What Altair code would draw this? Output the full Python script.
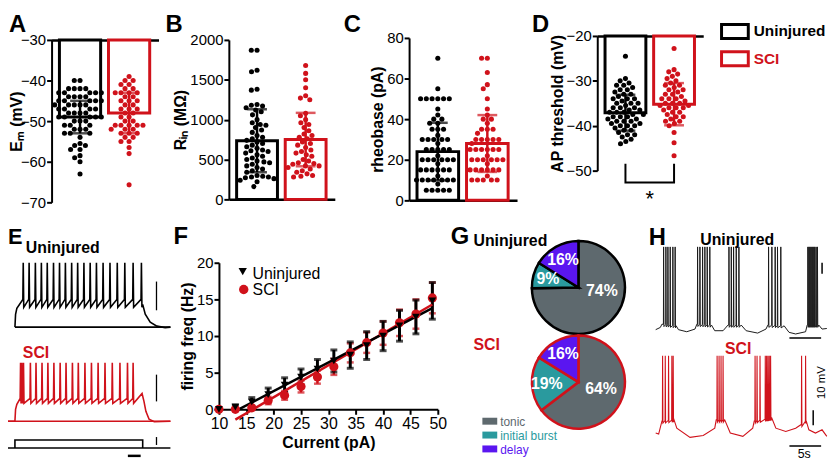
import altair as alt
import numpy as np
import pandas as pd

# ---------------- data ----------------
groups = ['Uninjured', 'SCI']

em_uninj = [-40, -40, -42, -42, -42, -42, -43, -43, -43, -43, -43, -44, -44, -44, -44, -45, -45, -45, -45, -45,
            -46, -46, -46, -46, -46, -47, -47, -47, -47, -48, -48, -48, -48, -49, -49, -49, -49, -49, -50, -50,
            -50, -51, -51, -51, -52, -52, -52, -53, -53, -53, -54, -55.5, -56, -56, -57, -57, -58.5, -59, -60, -63]
em_sci = [-39, -40, -40, -41, -41, -42, -42, -43, -43, -43, -43, -44, -44, -45, -45, -45, -46, -46, -47, -47,
          -47, -48, -48, -49, -49, -50, -50, -51, -51, -51, -51, -51, -52, -52, -52, -53, -53, -53, -54, -54,
          -55, -55, -56.5, -58, -65.7]
em_mean = [-49, -48]
em_sd = [4, 5]

rin_uninj = [1870, 1870, 1620, 1600, 1380, 1370, 1190, 1180, 1170, 1150, 1120, 1100, 1060, 1000, 960, 940, 930,
             900, 870, 840, 800, 780, 760, 740, 720, 700, 680, 660, 640, 620, 610, 600, 580, 560, 540, 520, 500,
             480, 470, 460, 440, 420, 400, 380, 360, 340, 300, 290, 280, 280, 270, 260, 240, 220, 160]
rin_sci = [1680, 1580, 1500, 1400, 1300, 1270, 1250, 1080, 1050, 1000, 960, 940, 900, 860, 820, 800, 780, 760,
           720, 700, 680, 650, 620, 600, 580, 560, 540, 500, 480, 460, 450, 440, 420, 420, 400, 380, 360, 340,
           320, 300, 290, 280]
rin_mean = [735, 750]
rin_sd = [395, 335]

rheo_uninj = [70, 55, 50, 50, 50, 50, 50, 50, 45, 42, 40, 40, 38, 38, 35, 35, 35, 32, 30, 30, 30, 30, 30, 28,
              25, 25, 25, 25, 25, 22, 20, 20, 20, 20, 20, 20, 18, 15, 15, 15, 15, 15, 15, 12, 10, 10, 10, 10,
              10, 10, 10, 8, 5, 5, 5, 5, 5]
rheo_sci = [70, 70, 63, 57, 55, 50, 45, 42, 40, 40, 38, 35, 35, 35, 33, 30, 30, 30, 30, 30, 28, 25, 25, 25, 25,
            25, 25, 22, 20, 20, 20, 20, 20, 20, 18, 15, 15, 15, 15, 15, 15, 12, 10, 10, 10, 10, 10]
rheo_mean = [24, 28]
rheo_sd = [14.2, 14]

apt_uninj = [-24.5, -29.5, -30, -30.5, -31, -31, -31.5, -32, -32, -32.5, -33, -33, -33.5, -34, -34, -34, -34.5,
             -35, -35, -35, -35.5, -36, -36, -36, -36.5, -36.5, -37, -37, -37, -37.5, -37.5, -38, -38, -38,
             -38.5, -38.5, -39, -39, -39, -39.5, -39.5, -40, -40, -40, -40.5, -41, -41, -41.5, -42, -42, -42.5,
             -43, -43.5, -44]
apt_sci = [-22.8, -27.5, -28, -28.5, -29, -29.5, -30, -30.5, -31, -31, -31.5, -32, -32, -32.5, -33, -33, -33.5,
           -34, -34, -34, -34.5, -35, -35, -35, -35.5, -35.5, -36, -36, -36, -36.5, -37, -37, -37.5, -38, -38,
           -38.5, -39, -39, -39.5, -40, -41.5, -43.8, -46.7]
apt_mean = [-37.1, -35.2]
apt_sd = [4.0, 4.7]

f_current = [10, 13, 16, 19, 22, 25, 28, 31, 34, 37, 40, 43, 46, 49]
f_uninj_mean = [0, 0.3, 1.0, 2.0, 3.3, 4.4, 5.5, 6.6, 7.4, 8.7, 10.0, 11.4, 12.6, 14.8]
f_uninj_sem = [0, 0.3, 0.6, 0.9, 1.0, 1.1, 1.3, 1.5, 1.8, 1.9, 2.0, 2.1, 2.3, 2.5]
f_sci_mean = [0, 0, 0.2, 1.2, 1.9, 3.1, 4.4, 5.8, 7.7, 9.1, 10.4, 11.8, 13.0, 15.2]
f_sci_sem = [0, 0, 0.3, 0.5, 0.6, 0.8, 0.9, 1.1, 1.3, 1.4, 1.6, 1.8, 2.0, 2.1]

pie_types = ['tonic', 'initial burst', 'delay']
pie_uninj = [74, 9, 16]
pie_sci = [64, 19, 16]

# E: evoked spike times (ms from step onset)
e_uninj_spikes = [65, 111, 160, 207, 253, 302, 349, 395, 444, 491, 540, 589, 638, 690, 744, 801, 860, 925, 990]
e_sci_spikes = [44, 54, 67, 121, 165, 212, 258, 305, 354, 400, 450, 496, 548, 599, 651, 705, 762, 822, 881, 925]
e_uninj_onset = [(0, -65), (5, -52), (15, -46)]
e_uninj_tail = [(1000, -42), (1020, -52), (1059, -60), (1111, -64), (1176, -65.5), (1217, -65)]
e_sci_onset = [(0, -65), (5, -53), (15, -48)]
e_sci_tail = [(995, -37), (1010, -45), (1025, -55), (1050, -63), (1090, -65.5), (1217, -65)]

# H: spontaneous bursts (s), baseline keypoints (s, mV)
h_uninj_spikes = [1.25, 1.61, 1.93, 2.29, 2.71, 3.07, 6.61, 6.98, 7.40, 7.76, 8.13, 8.54, 11.56, 11.93, 12.29,
                  12.71, 13.13, 17.81, 18.33, 18.85, 19.22, 19.74, 24.01, 24.17, 24.32, 24.48, 24.64, 24.79,
                  24.95, 25.10, 25.31, 25.52]
h_uninj_base = [(0, -60.4), (0.73, -58.9), (0.99, -56.7), (3.23, -57.8), (3.59, -60.4), (4.90, -61.8),
                (6.20, -60), (6.5, -56.7), (8.80, -57.3), (9.32, -61.1), (10.63, -61.1), (11.41, -57.3),
                (13.49, -57.3), (14.27, -61.1), (16.09, -62.7), (17.40, -60), (17.7, -57.3), (20.26, -57.8),
                (21.04, -62.2), (22.08, -63.3), (23.65, -61.8), (23.9, -57.3), (25.73, -57.3), (26.25, -60),
                (27.0, -59.6)]
h_sci_spikes = [1.09, 1.51, 2.03, 2.55, 2.76, 9.69, 10.0, 10.31, 10.63, 15.68, 15.99, 16.46, 17.29, 17.5,
                17.71, 17.92, 18.13, 23.02, 23.65]
h_sci_base = [(0, -60), (0.47, -60.7), (0.99, -51.8), (2.9, -51.1), (3.33, -56.7), (5.42, -62.9), (7.5, -61.6),
              (9.32, -56.7), (9.55, -51.1), (10.89, -51.1), (11.77, -60), (13.75, -62.2), (15.31, -56.7),
              (15.55, -51.8), (18.33, -50), (18.96, -56.7), (20.52, -58.9), (22.08, -56.7), (22.9, -54.4),
              (23.75, -51.8), (24.17, -57.8), (25.21, -60), (26.25, -57.8), (27.0, -62.2)]

# ---------------- layout / style ----------------
W, H = 829, 457
FONT = 'Liberation Sans'
BLACK = '#000000'
RED = '#d0121b'
PIE_COLORS = ['#5e696e', '#2a9a9e', '#5a16f0']


def X(px):
    return px - 8


def Y(py):
    return py - 8


def swarm(vals, ppu, d=5.8):
    order = sorted(range(len(vals)), key=lambda i: -vals[i])
    placed = []
    offs = [0.0] * len(vals)
    for i in order:
        y = vals[i] * ppu
        forb = []
        for (px_, py_) in placed:
            dy = abs(y - py_)
            if dy < d:
                dx = (d * d - dy * dy) ** 0.5
                forb.append((px_ - dx, px_ + dx))
        cands = [0.0] + [a for a, b in forb] + [b for a, b in forb]
        cands.sort(key=lambda c: (abs(c), c))
        x = 0.0
        for c in cands:
            if all(not (a + 1e-6 < c < b - 1e-6) for a, b in forb):
                x = c
                break
        placed.append((x, y))
        offs[i] = x
    return offs


XDOM = [-0.58, 1.6]
HW = 0.42


def bar_panel(vals, means, sds, dom, base, ticks, title, xr, yr, top_axis, tpad=1):
    step = (xr[1] - xr[0]) / (XDOM[1] - XDOM[0])
    ppu = (yr[0] - yr[1]) / (dom[1] - dom[0])
    rows = []
    for gi, g in enumerate(groups):
        offs = swarm(vals[gi], ppu)
        for v, o in zip(vals[gi], offs):
            rows.append({'g': g, 'x': gi + o / step, 'v': v})
    dots = pd.DataFrame(rows)
    summ = pd.DataFrame({'g': groups, 'xc': [0.0, 1.0], 'x0': [-HW, 1 - HW], 'x1': [HW, 1 + HW],
                         'base': [base, base], 'm': means,
                         'lo': [m - s for m, s in zip(means, sds)], 'hi': [m + s for m, s in zip(means, sds)]})
    xs = alt.Scale(domain=XDOM, range=[X(xr[0]), X(xr[1])], nice=False, zero=False)
    ys = alt.Scale(domain=dom, range=[Y(yr[0]), Y(yr[1])], nice=False, zero=False)
    cs = alt.Scale(domain=groups, range=[BLACK, RED])
    if top_axis:
        xa = alt.Axis(orient='top', offset=-Y(yr[1]), labels=False, ticks=False, title='', domainWidth=2.5)
    else:
        xa = alt.Axis(orient='bottom', offset=Y(yr[0]) - H, labels=False, ticks=False, title='', domainWidth=2.5)
    ya = alt.Axis(orient='left', offset=-X(xr[0]), values=ticks, title=title, titlePadding=tpad, format='d')
    bars = alt.Chart(summ).mark_rect(fill='white', strokeWidth=3).encode(
        x=alt.X('x0:Q', scale=xs, axis=xa), x2='x1:Q',
        y=alt.Y('base:Q', scale=ys, axis=ya), y2='m:Q',
        stroke=alt.Stroke('g:N', scale=cs, legend=None))
    pts = alt.Chart(dots).mark_circle(size=26, opacity=1).encode(
        x=alt.X('x:Q', scale=xs, axis=xa), y=alt.Y('v:Q', scale=ys, axis=ya),
        color=alt.Color('g:N', scale=cs, legend=None))
    err = alt.Chart(summ).mark_rule(strokeWidth=2.5).encode(
        x=alt.X('xc:Q', scale=xs, axis=xa), y=alt.Y('lo:Q', scale=ys, axis=ya), y2='hi:Q',
        color=alt.Color('g:N', scale=cs, legend=None))
    caps = alt.Chart(summ).transform_fold(['lo', 'hi'], as_=['k', 'e']).mark_tick(
        orient='horizontal', size=20, thickness=2.5).encode(
        x=alt.X('xc:Q', scale=xs, axis=xa), y=alt.Y('e:Q', scale=ys, axis=ya),
        color=alt.Color('g:N', scale=cs, legend=None))
    return [bars, pts, err, caps], xs, ys, xa, ya


def label(text, x, y, size=16, weight='bold', color=BLACK, align='left', baseline='alphabetic', angle=0):
    return alt.Chart(pd.DataFrame({'t': [text]})).mark_text(
        align=align, baseline=baseline, fontSize=size, fontWeight=weight, font=FONT, color=color,
        angle=angle).encode(text='t:N', x=alt.value(X(x)), y=alt.value(Y(y)))


def line_layer(pts, color, width, xs, ys):
    df = pd.DataFrame(pts, columns=['t', 'v'])
    df['i'] = range(len(df))
    return alt.Chart(df).mark_line(color=color, strokeWidth=width).encode(
        x=alt.X('t:Q', scale=xs, axis=None), y=alt.Y('v:Q', scale=ys, axis=None), order='i:Q')


layers = []

# ---- top row panels ----
pa, *_ = bar_panel([em_uninj, em_sci], em_mean, em_sd, [-70, -30], -30, [-70, -60, -50, -40, -30],
                   'E\u2098 (mV)', (52, 160), (202, 38), True, tpad=-4.5)
layers.append(alt.layer(*pa))
pb, *_ = bar_panel([rin_uninj, rin_sci], rin_mean, rin_sd, [0, 2000], 0, [0, 500, 1000, 1500, 2000],
                   'R\u1d62\u2099 (M\u03a9)', (231, 338), (199, 38), False)
layers.append(alt.layer(*pb))
pc, *_ = bar_panel([rheo_uninj, rheo_sci], rheo_mean, rheo_sd, [0, 80], 0, [0, 20, 40, 60, 80],
                   'rheobase (pA)', (413, 522), (200, 36), False)
layers.append(alt.layer(*pc))
pd_, dxs, dys, dxa, dya = bar_panel([apt_uninj, apt_sci], apt_mean, apt_sd, [-50, -20], -20,
                                    [-50, -40, -30, -20], 'AP threshold (mV)', (603, 710), (170, 34), True)
brk = pd.DataFrame({'t': [0, 0, 1, 1], 'v': [-48.46, -52.65, -52.65, -48.46], 'i': [0, 1, 2, 3]})
pd_.append(alt.Chart(brk).mark_line(color=BLACK, strokeWidth=2).encode(
    x=alt.X('t:Q', scale=dxs, axis=dxa), y=alt.Y('v:Q', scale=dys, axis=dya), order='i:Q'))
star = pd.DataFrame({'t': [0.5], 'v': [-57.9], 's': ['*']})
pd_.append(alt.Chart(star).mark_text(fontSize=22, font=FONT, color=BLACK, baseline='alphabetic').encode(
    x=alt.X('t:Q', scale=dxs, axis=dxa), y=alt.Y('v:Q', scale=dys, axis=dya), text='s:N'))
layers.append(alt.layer(*pd_))

# top-right legend
leg_df = pd.DataFrame({'g': groups})
leg_y = alt.Scale(domain=groups, range=[Y(14.25), Y(72.3)], paddingInner=0.49, paddingOuter=0.3)
leg_c = alt.Scale(domain=groups, range=[BLACK, RED])
layers.append(alt.layer(
    alt.Chart(leg_df).mark_rect(fill='white', strokeWidth=3).encode(
        y=alt.Y('g:N', scale=leg_y, axis=None), x=alt.value(X(728.5)), x2=alt.value(X(755.5)),
        stroke=alt.Stroke('g:N', scale=leg_c, legend=None)),
    alt.Chart(leg_df).mark_text(align='left', baseline='middle', fontSize=15.5, fontWeight='bold', font=FONT).encode(
        y=alt.Y('g:N', scale=leg_y, axis=None), x=alt.value(X(761)), text='g:N',
        color=alt.Color('g:N', scale=leg_c, legend=None))
))

# ---- F ----
fx = alt.Scale(domain=[10, 50], range=[X(221), X(442)], nice=False, zero=False)
fy = alt.Scale(domain=[0, 20], range=[Y(411), Y(263)], nice=False, zero=False)
fxa = alt.Axis(orient='bottom', offset=Y(411) - H, values=list(range(10, 51, 5)), title='Current (pA)',
               titlePadding=4, labelFlush=False, labelFontSize=16)
fya = alt.Axis(orient='left', offset=-X(221), values=[0, 5, 10, 15, 20], title='firing freq (Hz)',
               titlePadding=1, labelFlush=False)


def f_df(mean, sem):
    return pd.DataFrame({'I': f_current, 'm': mean,
                         'lo': [m - s for m, s in zip(mean, sem)], 'hi': [m + s for m, s in zip(mean, sem)]})


def f_err(df, color, w):
    return [alt.Chart(df).mark_rule(color=color, strokeWidth=w).encode(
                x=alt.X('I:Q', scale=fx, axis=fxa), y=alt.Y('lo:Q', scale=fy, axis=fya), y2='hi:Q'),
            alt.Chart(df).transform_fold(['lo', 'hi'], as_=['k', 'e']).mark_tick(
                orient='horizontal', color=color, size=7, thickness=w).encode(
                x=alt.X('I:Q', scale=fx, axis=fxa), y=alt.Y('e:Q', scale=fy, axis=fya))]


def f_fit(df, color):
    return alt.Chart(df).transform_filter('datum.I >= 13').transform_regression('I', 'm').mark_line(
        color=color, strokeWidth=2.5).encode(x=alt.X('I:Q', scale=fx, axis=fxa), y=alt.Y('m:Q', scale=fy, axis=fya))


fu = f_df(f_uninj_mean, f_uninj_sem)
fs = f_df(f_sci_mean, f_sci_sem)
f_layers = f_err(fs, RED, 2.5) + f_err(fu, BLACK, 3) + [f_fit(fs, RED), f_fit(fu, BLACK)]
f_layers.append(alt.Chart(fs).mark_circle(size=85, opacity=1, color=RED).encode(
    x=alt.X('I:Q', scale=fx, axis=fxa), y=alt.Y('m:Q', scale=fy, axis=fya)))
f_layers.append(alt.Chart(fu).mark_point(shape='triangle-down', filled=True, size=60, opacity=1, color=BLACK).encode(
    x=alt.X('I:Q', scale=fx, axis=fxa), y=alt.Y('m:Q', scale=fy, axis=fya)))
layers.append(alt.layer(*f_layers))
one = pd.DataFrame({'a': [0]})
layers.append(alt.Chart(one).mark_point(shape='triangle-down', filled=True, size=70, opacity=1, color=BLACK).encode(
    x=alt.value(X(245)), y=alt.value(Y(272))))
layers.append(alt.Chart(one).mark_circle(size=90, opacity=1, color=RED).encode(
    x=alt.value(X(246)), y=alt.value(Y(290))))
layers.append(label('Uninjured', 255, 279, size=16, weight='normal'))
layers.append(label('SCI', 255, 296, size=16, weight='normal'))

# ---- E traces ----
ex = alt.Scale(domain=[-77.5, 1217], range=[X(5), X(172)], nice=False, zero=False)
ey = alt.Scale(domain=[-199, 16], range=[Y(462), Y(247)], nice=False, zero=False)


def step_trace(spikes, onset, tail, thr, peak, trough, offset, t0=None):
    pts = []
    if t0 is not None:
        pts.append((t0, onset[0][1]))
    pts += list(onset)
    for s in spikes:
        pts += [(s - 3, thr), (s, peak), (s + 4, trough)]
    pts += list(tail)
    return [(t, v + offset) for t, v in pts]


E_SCI_OFF = -95
E_STIM_BASE, E_STIM_TOP = -187, -179
e_layers = [
    line_layer([(0, -65), (1217, -65)], BLACK, 1.6, ex, ey),
    line_layer(step_trace(e_uninj_spikes, e_uninj_onset, e_uninj_tail, -37, 0, -45, 0), BLACK, 1.6, ex, ey),
    line_layer([(-77.5, -65 + E_SCI_OFF), (1217, -65 + E_SCI_OFF)], RED, 1.6, ex, ey),
    line_layer(step_trace(e_sci_spikes, e_sci_onset, e_sci_tail, -42, -6, -47, E_SCI_OFF, t0=-77.5),
               RED, 1.6, ex, ey),
    line_layer([(-77.5, E_STIM_BASE), (1217, E_STIM_BASE)], BLACK, 1.6, ex, ey),
    line_layer([(0, E_STIM_BASE), (0, E_STIM_TOP), (1000, E_STIM_TOP), (1000, E_STIM_BASE)], BLACK, 1.6, ex, ey),
    line_layer([(1108, -19), (1108, -48)], BLACK, 1.3, ex, ey),
    line_layer([(1108, -113), (1108, -140)], BLACK, 1.3, ex, ey),
    line_layer([(1108, -176), (1108, -184)], BLACK, 1.3, ex, ey),
    line_layer([(884, -195), (984, -195)], BLACK, 2.5, ex, ey),
]
layers.append(alt.layer(*e_layers))

# ---- G pies ----
pie_cs = alt.Scale(domain=pie_types, range=PIE_COLORS)
TONIC_LABEL_SHIFT = {'Uninjured': -9.6, 'SCI': -2.3}


def pie(vals, name, cxp, cyp, stroke):
    df = pd.DataFrame({'type': pie_types, 'v': vals, 'ord': [0, 1, 2]})
    cum = np.cumsum(vals)
    df['ang'] = cum - np.array(vals) / 2.0
    df.loc[df.type == 'tonic', 'ang'] += TONIC_LABEL_SHIFT[name]
    df['lab'] = [f'{v}%' for v in vals]
    ths = alt.Scale(domain=[0, float(sum(vals))], range=[0, 2 * np.pi])
    arcs = alt.Chart(df).mark_arc(radius=47, stroke=stroke, strokeWidth=2.5).encode(
        theta=alt.Theta('v:Q', stack=True, scale=ths), order=alt.Order('ord:Q'),
        color=alt.Color('type:N', scale=pie_cs, legend=None),
        x=alt.value(X(cxp)), y=alt.value(Y(cyp)))
    t1 = alt.Chart(df).transform_filter("datum.type == 'tonic'").mark_text(
        radius=24, fontSize=16, fontWeight='bold', font=FONT, color='white', align='center', baseline='middle').encode(
        theta=alt.Theta('ang:Q', stack=False, scale=ths), text='lab:N', x=alt.value(X(cxp)), y=alt.value(Y(cyp)))
    t2 = alt.Chart(df).transform_filter("datum.type != 'tonic'").mark_text(
        radius=32, fontSize=16, fontWeight='bold', font=FONT, color='white', align='center', baseline='middle').encode(
        theta=alt.Theta('ang:Q', stack=False, scale=ths), text='lab:N', x=alt.value(X(cxp)), y=alt.value(Y(cyp)))
    return alt.layer(arcs, t1, t2)


layers.append(pie(pie_uninj, 'Uninjured', 584, 288, BLACK))
layers.append(pie(pie_sci, 'SCI', 584, 383.5, RED))

pleg = pd.DataFrame({'type': pie_types})
pleg_y = alt.Scale(domain=pie_types, range=[Y(416.7), Y(457.3)], paddingInner=0.5, paddingOuter=0.2)
layers.append(alt.layer(
    alt.Chart(pleg).mark_rect().encode(
        y=alt.Y('type:N', scale=pleg_y, axis=None), x=alt.value(X(487)), x2=alt.value(X(502)),
        color=alt.Color('type:N', scale=pie_cs, legend=None)),
    alt.Chart(pleg).mark_text(align='left', baseline='middle', fontSize=12, font=FONT, dy=1).encode(
        y=alt.Y('type:N', scale=pleg_y, axis=None), x=alt.value(X(505)), text='type:N',
        color=alt.Color('type:N', scale=pie_cs, legend=None))
))

# ---- H traces ----
hx = alt.Scale(domain=[0, 27], range=[X(662), X(834.8)], nice=False, zero=False)
hy = alt.Scale(domain=[-148, 5.3], range=[Y(462), Y(232)], nice=False, zero=False)
H_SCI_OFF = -70


def burst_trace(base_pts, spikes, peak, offset):
    tb = [p[0] for p in base_pts]
    vb = [p[1] for p in base_pts]
    pts = list(base_pts)
    for s in spikes:
        b = float(np.interp(s, tb, vb))
        pts += [(s - 0.03, b), (s, peak), (s + 0.05, b - 1.5)]
    pts.sort()
    return [(t, v + offset) for t, v in pts]


h_layers = [
    line_layer(burst_trace(h_uninj_base, h_uninj_spikes, -4.7, 0), '#1a1a1a', 1.0, hx, hy),
    line_layer(burst_trace(h_sci_base, h_sci_spikes, -8, H_SCI_OFF), RED, 1.1, hx, hy),
    line_layer([(26.25, -22.7), (26.25, -15.3)], BLACK, 1.5, hx, hy),
    line_layer([(21.1, -66), (26.1, -66)], BLACK, 1.5, hx, hy),
    line_layer([(24.85, -114.7), (24.85, -124.7)], BLACK, 1.5, hx, hy),
    line_layer([(21.1, -138.7), (26.1, -138.7)], BLACK, 1.5, hx, hy),
]
mv = pd.DataFrame({'t': [26.25], 'v': [-96.0], 's': ['10 mV']})
h_layers.append(alt.Chart(mv).mark_text(angle=270, fontSize=11.5, font=FONT, color=BLACK, align='center',
                                         baseline='middle').encode(
    x=alt.X('t:Q', scale=hx, axis=None), y=alt.Y('v:Q', scale=hy, axis=None), text='s:N'))
layers.append(alt.layer(*h_layers))
layers.append(label('5s', 812, 460, size=12.5, weight='normal', align='center'))

# ---- text labels ----
for let, lx, ly in [('A', 9, 30), ('B', 167, 30), ('C', 347, 30), ('D', 537, 30),
                    ('E', 8, 244), ('F', 175, 244), ('G', 455, 244), ('H', 655, 245)]:
    layers.append(label(let, lx, ly, size=24 if let != 'E' else 22))
layers.append(label('Uninjured', 26, 253))
layers.append(label('SCI', 23, 359, color=RED))
layers.append(label('Uninjured', 478, 246))
layers.append(label('SCI', 478, 351, color=RED))
layers.append(label('Uninjured', 707, 245))
layers.append(label('SCI', 732, 355, color=RED))

chart = alt.layer(*layers).resolve_scale(
    x='independent', y='independent', color='independent', stroke='independent', theta='independent'
).resolve_axis(x='independent', y='independent').properties(
    width=W, height=H, padding=0, autosize=alt.AutoSizeParams(type='none')
).configure_view(stroke=None).configure_axis(
    grid=False, domainColor=BLACK, domainWidth=2, tickColor=BLACK, tickWidth=2, tickSize=5,
    labelFont=FONT, labelFontSize=15, labelColor=BLACK, labelPadding=1,
    titleFont=FONT, titleFontSize=16, titleFontWeight='bold', titleColor=BLACK
)

chart.save('out.html', embed_options={'renderer': 'svg', 'actions': False})
